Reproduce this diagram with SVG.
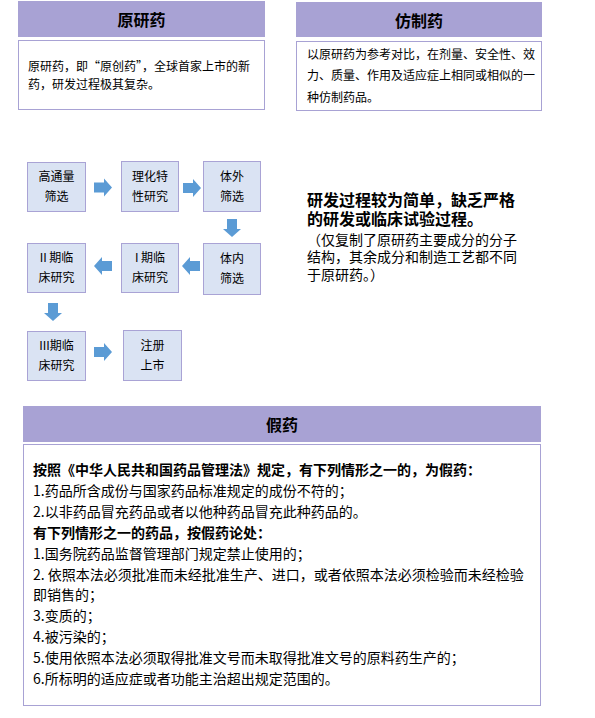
<svg xmlns="http://www.w3.org/2000/svg" width="595" height="718" viewBox="0 0 595 718">
<style>
text{font-family:"Noto Sans CJK SC","Liberation Sans",sans-serif;fill:#000}
.hdr{fill:#A8A2D4}
.title{font-size:16px;font-weight:bold;text-anchor:middle;dominant-baseline:central}
.body{fill:#fff;stroke:#A8A2D4;stroke-width:1}
.t12{font-size:12px}
.t14{font-size:14px}
.b14{font-size:14px;font-weight:bold}
.b16{font-size:16px;font-weight:bold}
.step{fill:#DAE3F3;stroke:#A9A3D5;stroke-width:1}
.st{font-size:12px;text-anchor:middle}
.arr{fill:#5B9BD5}
</style>
<defs>
<path id="ra" d="M0,-5 H10 V-9 L18,0 L10,9 V5 H0 Z"/>
</defs>
<rect width="595" height="718" fill="#fff"/>

<g id="original">
<rect class="hdr" x="18" y="1" width="247" height="36"/>
<text class="title" x="141.5" y="19">原研药</text>
<rect class="body" x="18.5" y="40.5" width="246" height="69"/>
<text class="t12" x="28" y="70.5">原研药，即“原创药”，全球首家上市的新</text>
<text class="t12" x="28" y="88.5">药，研发过程极其复杂。</text>
</g>

<g id="generic">
<rect class="hdr" x="296" y="2" width="246" height="35"/>
<text class="title" x="419" y="19.5">仿制药</text>
<rect class="body" x="296.5" y="41.5" width="245" height="69"/>
<text class="t12" x="307" y="58.5">以原研药为参考对比，在剂量、安全性、效</text>
<text class="t12" x="307" y="80">力、质量、作用及适应症上相同或相似的一</text>
<text class="t12" x="307" y="101.5">种仿制药品。</text>
</g>

<g id="step1">
<rect class="step" x="27.5" y="162.5" width="58" height="49"/>
<text class="st" x="56.5" y="181">高通量</text>
<text class="st" x="56.5" y="201">筛选</text>
</g>
<g id="step2">
<rect class="step" x="121.5" y="161.5" width="57" height="50"/>
<text class="st" x="150" y="181">理化特</text>
<text class="st" x="150" y="201">性研究</text>
</g>
<g id="step3">
<rect class="step" x="203.5" y="161.5" width="57" height="50"/>
<text class="st" x="232" y="181">体外</text>
<text class="st" x="232" y="201">筛选</text>
</g>
<g id="step4">
<rect class="step" x="203.5" y="243.5" width="57" height="51"/>
<text class="st" x="232" y="263">体内</text>
<text class="st" x="232" y="283">筛选</text>
</g>
<g id="step5">
<rect class="step" x="121.5" y="243.5" width="57" height="49"/>
<text class="st" x="150" y="262">I 期临</text>
<text class="st" x="150" y="282">床研究</text>
</g>
<g id="step6">
<rect class="step" x="27.5" y="243.5" width="58" height="49"/>
<text class="st" x="56.5" y="262">II 期临</text>
<text class="st" x="56.5" y="282">床研究</text>
</g>
<g id="step7">
<rect class="step" x="27.5" y="331.5" width="58" height="49"/>
<text class="st" x="56.5" y="350">III期临</text>
<text class="st" x="56.5" y="370">床研究</text>
</g>
<g id="step8">
<rect class="step" x="123.5" y="330.5" width="58" height="50"/>
<text class="st" x="152.5" y="350">注册</text>
<text class="st" x="152.5" y="370">上市</text>
</g>

<g id="connectors" class="arr">
<use href="#ra" transform="translate(94,187.5)"/>
<use href="#ra" transform="translate(183,188)"/>
<use href="#ra" transform="translate(232,219) rotate(90)"/>
<use href="#ra" transform="translate(200,266) rotate(180)"/>
<use href="#ra" transform="translate(112,266) rotate(180)"/>
<use href="#ra" transform="translate(53,303) rotate(90)"/>
<use href="#ra" transform="translate(94,352)"/>
</g>

<g id="note">
<text x="307" y="205.5"><tspan class="b16">研发过程较为简单，缺乏严格</tspan><tspan class="b16" x="307" dy="19">的研发或临床试验过程。</tspan><tspan class="t14" x="307" dy="20">（仅复制了原研药主要成分的分子</tspan><tspan class="t14" x="307" dy="17.5">结构，其余成分和制造工艺都不同</tspan><tspan class="t14" x="307" dy="17.5">于原研药。）</tspan></text>
</g>

<g id="fake">
<rect class="hdr" x="23" y="406" width="518" height="36"/>
<text class="title" x="282" y="424">假药</text>
<rect class="body" x="23.5" y="444.5" width="517" height="261"/>
<text class="b14" x="33" y="475">按照《中华人民共和国药品管理法》规定，有下列情形之一的，为假药：</text>
<text class="t14" x="33" y="496">1.药品所含成份与国家药品标准规定的成份不符的；</text>
<text class="t14" x="33" y="517">2.以非药品冒充药品或者以他种药品冒充此种药品的。</text>
<text class="b14" x="33" y="538">有下列情形之一的药品，按假药论处：</text>
<text class="t14" x="33" y="559">1.国务院药品监督管理部门规定禁止使用的；</text>
<text class="t14" x="33" y="580">2. 依照本法必须批准而未经批准生产、进口，或者依照本法必须检验而未经检验</text>
<text class="t14" x="33" y="600">即销售的；</text>
<text class="t14" x="33" y="621">3.变质的；</text>
<text class="t14" x="33" y="642">4.被污染的；</text>
<text class="t14" x="33" y="663">5.使用依照本法必须取得批准文号而未取得批准文号的原料药生产的；</text>
<text class="t14" x="33" y="684">6.所标明的适应症或者功能主治超出规定范围的。</text>
</g>
</svg>
